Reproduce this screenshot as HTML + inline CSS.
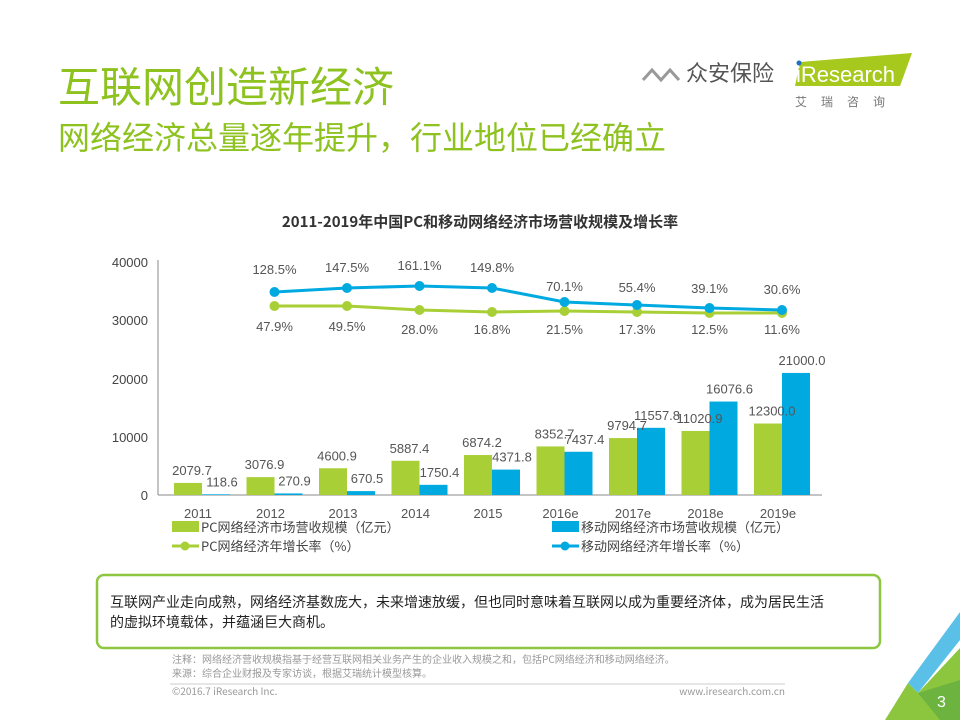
<!DOCTYPE html>
<html><head><meta charset="utf-8"><style>
body{margin:0;width:960px;height:720px;overflow:hidden;background:#fff;font-family:"Liberation Sans","Noto Sans CJK SC",sans-serif;position:relative}
.a{position:absolute;white-space:nowrap}
</style></head><body>
<div class="a" style="left:58px;top:54px;font-size:42px;color:#8dc21f">互联网创造新经济</div>
<div class="a" style="left:58px;top:113px;font-size:32px;color:#8dc21f">网络经济总量逐年提升，行业地位已经确立</div>
<svg class="a" style="left:0;top:0" width="960" height="720">
<polyline points="643,80 652,70 661,80 670,70 679,80" fill="none" stroke="#999" stroke-width="3"/>
<text x="686" y="81" font-size="22" fill="#555" font-family="Noto Sans CJK SC">众安保险</text>
<polygon points="800,62 912,53 900,86 795,86" fill="#a7c81d"/>
<circle cx="799" cy="63" r="2.5" fill="#1f6fc0"/>
<text x="796" y="82" font-size="22" fill="#fff">iResearch</text>
<text x="795" y="106" font-size="12" fill="#777" font-family="Noto Sans CJK SC" letter-spacing="14">艾瑞咨询</text>
<text x="480" y="227" font-size="15" font-weight="bold" fill="#333" text-anchor="middle" font-family="Noto Sans CJK SC">2011-2019年中国PC和移动网络经济市场营收规模及增长率</text>
<g font-size="13" fill="#444" text-anchor="end">
<text x="148" y="267">40000</text><text x="148" y="325">30000</text><text x="148" y="384">20000</text><text x="148" y="442">10000</text><text x="148" y="500">0</text>
</g>
<line x1="158" y1="260" x2="158" y2="495" stroke="#888"/>
<line x1="158" y1="495" x2="822" y2="495" stroke="#888"/>
<g id="bars"></g>
<g font-size="13" fill="#555" text-anchor="middle" id="lbl"></g>
<rect x="172" y="521" width="27" height="11" fill="#a9cf37"/>
<text x="201" y="532" font-size="13" fill="#444" font-family="Noto Sans CJK SC">PC网络经济市场营收规模（亿元）</text>
<rect x="552" y="521" width="27" height="11" fill="#00a9e0"/>
<text x="581" y="532" font-size="13" fill="#444" font-family="Noto Sans CJK SC">移动网络经济市场营收规模（亿元）</text>
<line x1="172" y1="546" x2="199" y2="546" stroke="#a9cf37" stroke-width="3"/><circle cx="185" cy="546" r="4.5" fill="#a9cf37"/>
<text x="201" y="551" font-size="13" fill="#444" font-family="Noto Sans CJK SC">PC网络经济年增长率（%）</text>
<line x1="552" y1="546" x2="579" y2="546" stroke="#00a9e0" stroke-width="3"/><circle cx="565" cy="546" r="4.5" fill="#00a9e0"/>
<text x="581" y="551" font-size="13" fill="#444" font-family="Noto Sans CJK SC">移动网络经济年增长率（%）</text>
<rect x="97" y="575" width="783" height="73" rx="7" fill="none" stroke="#8dc63f" stroke-width="2.5"/>
<text x="110" y="607" font-size="14" fill="#222" font-family="Noto Sans CJK SC">互联网产业走向成熟，网络经济基数庞大，未来增速放缓，但也同时意味着互联网以成为重要经济体，成为居民生活</text>
<text x="110" y="627" font-size="14" fill="#222" font-family="Noto Sans CJK SC">的虚拟环境载体，并蕴涵巨大商机。</text>
<g font-size="10" fill="#999" font-family="Noto Sans CJK SC">
<text x="172" y="663">注释：网络经济营收规模指基于经营互联网相关业务产生的企业收入规模之和，包括PC网络经济和移动网络经济。</text>
<text x="172" y="677">来源：综合企业财报及专家访谈，根据艾瑞统计模型核算。</text>
<text x="172" y="695">©2016.7 iResearch Inc.</text>
<text x="785" y="695" text-anchor="end">www.iresearch.com.cn</text>
</g>
<line x1="170" y1="684" x2="785" y2="684" stroke="#ccc"/>
<polygon points="960,612 908,683 918,693 960,640" fill="#5bc0e8"/>
<polygon points="960,648 918,693 908,683 885,720 960,720" fill="#8cc63f"/>
<polygon points="918,693 940,720 960,720 960,680" fill="#6db33f"/>
<text x="937" y="707" font-size="16" fill="#fff">3</text>
</svg>
<script>
var pc=[2079.7,3076.9,4600.9,5887.4,6874.2,8352.7,9794.7,11020.9,12300.0];
var mb=[118.6,270.9,670.5,1750.4,4371.8,7437.4,11557.8,16076.6,21000.0];
var yrs=["2011","2012","2013","2014","2015","2016e","2017e","2018e","2019e"];
var gb=[128.5,147.5,161.1,149.8,70.1,55.4,39.1,30.6], gy=[292,288,286,288,302,305,308,310];
var gg=[47.9,49.5,28.0,16.8,21.5,17.3,12.5,11.6], ggy=[306,306,310,312,311,312,313,313];
var s="",t="";
function Y(v){return 495-v*0.0058125;}
for(var i=0;i<9;i++){var c=202+72.5*i;
s+='<rect x="'+(c-28)+'" y="'+Y(pc[i])+'" width="28" height="'+(495-Y(pc[i]))+'" fill="#a9cf37"/>';
s+='<rect x="'+c+'" y="'+Y(mb[i])+'" width="28" height="'+(495-Y(mb[i]))+'" fill="#00a9e0"/>';
t+='<text x="'+(c-10)+'" y="'+(Y(pc[i])-8)+'">'+pc[i].toFixed(1)+'</text>';
t+='<text x="'+(c+20)+'" y="'+(Y(mb[i])-8)+'">'+mb[i].toFixed(1)+'</text>';
t+='<text x="'+(c-4)+'" y="518">'+yrs[i]+'</text>';}
var pb="",pg="";
for(var j=0;j<8;j++){var x=274.5+72.5*j;pb+=x+","+gy[j]+" ";pg+=x+","+ggy[j]+" ";
t+='<text x="'+x+'" y="'+(j<4?274-(j==2?4:j==1||j==3?2:0):287+j)+'">'+gb[j].toFixed(1)+'%</text>';
t+='<text x="'+x+'" y="'+(331+(j>1?3:0))+'">'+gg[j].toFixed(1)+'%</text>';}
s+='<polyline points="'+pg+'" fill="none" stroke="#a9cf37" stroke-width="3"/>';
s+='<polyline points="'+pb+'" fill="none" stroke="#00a9e0" stroke-width="3"/>';
for(var j=0;j<8;j++){var x=274.5+72.5*j;s+='<circle cx="'+x+'" cy="'+ggy[j]+'" r="5" fill="#a9cf37"/><circle cx="'+x+'" cy="'+gy[j]+'" r="5" fill="#00a9e0"/>';}
document.getElementById("bars").innerHTML=s;
document.getElementById("lbl").innerHTML=t;
</script>
</body></html>
